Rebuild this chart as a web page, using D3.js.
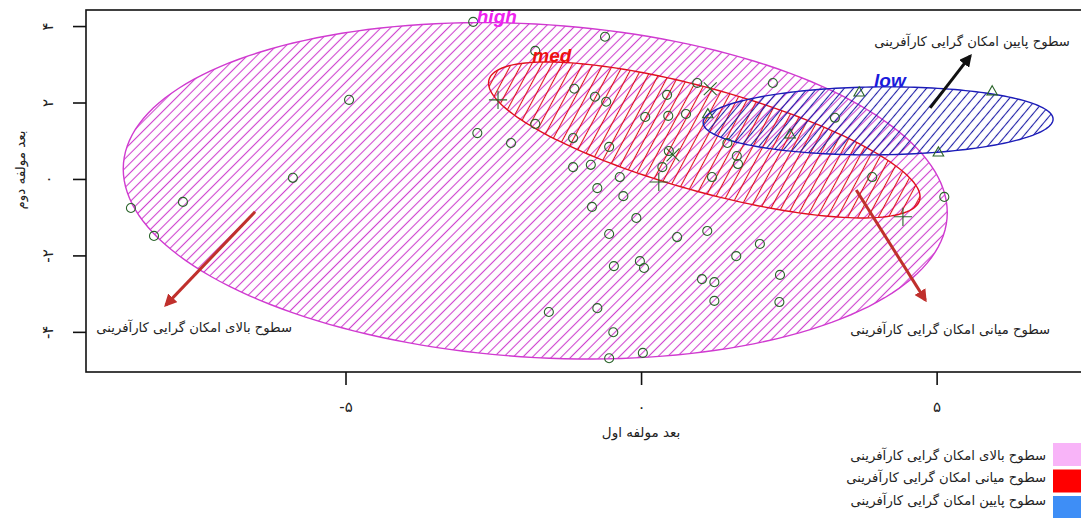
<!DOCTYPE html>
<html>
<head>
<meta charset="utf-8">
<script src="https://cdn.jsdelivr.net/npm/d3@7"></script>
<style>
  body { margin: 0; background: #fff; }
  svg { display: block; font-family: "DejaVu Sans", sans-serif; }
</style>
</head>
<body>
<svg id="chart" width="1081" height="518"></svg>
<script>
// ellipses (center, spread, correlation) per group
const groups = ["high", "med", "low"]
const ellCenterX = [-1.79, 1.07, 4.01]
const ellCenterY = [-0.31, 1.02, 1.52]
const ellSdX = [6.97, 3.65, 2.96]
const ellSdY = [4.40, 2.04, 0.89]
const ellCor = [-0.13, -0.73, 0.05]

// points
const circlePts = [
  [-8.63,-0.76],[-7.75,-0.60],[-8.24,-1.49],[-5.89,0.03],[-4.94,2.07],[-2.84,4.11],
  [-2.77,1.20],[-2.20,0.94],[-0.61,3.72],[-1.79,3.35],[-1.13,2.36],[-0.78,2.15],
  [-0.59,2.02],[-1.79,1.44],[-1.15,1.07],[-0.54,0.84],[0.07,1.62],[0.44,2.20],
  [0.46,1.65],[0.76,1.70],[0.95,2.51],[-1.15,0.31],[-0.85,0.37],[-0.36,0.05],
  [0.36,0.31],[0.47,0.73],[-0.74,-0.24],[-0.30,-0.45],[-0.83,-0.73],[-0.08,-1.02],
  [-0.54,-1.44],[0.61,-1.52],[1.12,-1.36],[-0.46,-2.28],[-0.02,-2.15],[0.05,-2.33],
  [1.03,-2.62],[-1.56,-3.48],[-0.74,-3.38],[-0.47,-4.01],[-0.54,-4.69],[0.03,-4.55],
  [1.24,-2.70],[1.24,-3.19],[1.61,-2.02],[2.01,-1.70],[2.35,-2.51],[2.34,-3.22],
  [5.13,-0.47],[2.23,2.51],[3.28,1.60],[1.46,0.94],[1.62,0.60],[1.64,0.39],
  [1.20,0.05],[3.91,0.05]
]
const trianglePts = [[1.13,1.68],[3.69,2.25],[2.52,1.15],[5.03,0.68],[5.94,2.28]]
const plusPts = [[-2.42,2.07],[0.30,-0.08],[4.43,-0.99]]
const timesPts = [[1.17,2.36],[0.54,0.63]]

// axis ticks
const xTicks = [-5, 0, 5]
const yTicks = [-4, -2, 0, 2, 4]

// group labels on the ellipses
const labelPos = [[-2.44, 4.24], [-1.51, 3.22], [4.21, 2.57]]

// annotations: text, text position, arrow start, arrow end
const noteText = [
  "سطوح بالای امکان گرایی کارآفرینی",
  "سطوح میانی امکان گرایی کارآفرینی",
  "سطوح پایین امکان گرایی کارآفرینی"
]
const notePos = [[-7.56, -3.88], [5.23, -3.95], [5.60, 3.59]]
const arrowFrom = [[-6.53, -0.86], [3.64, -0.29], [4.89, 1.86]]
const arrowTo = [[-8.04, -3.30], [4.81, -3.17], [5.57, 3.22]]

const legendText = noteText

const svg = d3.select("#chart")
const mLeft = 86, mRight = 1085, mTop = 10, mBottom = 372

const x = d3.scaleLinear().domain([-9.39, 7.51]).range([mLeft, mRight])
const y = d3.scaleLinear().domain([-5.05, 4.42]).range([mBottom, mTop])

const fa = n => String(n).replace(/\d/g, d => "۰۱۲۳۴۵۶۷۸۹"[d])

const lineCol = ["#d03ad0", "#e01020", "#1c1cb8"]
const hatchCol = ["#cf42cf", "#e0101c", "#2020a8"]
const hatchAngle = [-45, -62, -50]
const hatchGap = [6.8, 9, 7]
const labelCol = ["#ee22ee", "#ee1010", "#1a1adc"]
const arrowCol = ["#c0302c", "#c0302c", "#111"]
const legendCol = ["#f8b4f8", "#ff0000", "#3e8ef6"]

const defs = svg.append("defs")
groups.forEach((g, i) => {
  const p = defs.append("pattern")
    .attr("id", "hatch-" + g)
    .attr("patternUnits", "userSpaceOnUse")
    .attr("width", hatchGap[i]).attr("height", hatchGap[i])
    .attr("patternTransform", `rotate(${hatchAngle[i]})`)
  p.append("line")
    .attr("x1", 0).attr("x2", hatchGap[i])
    .attr("y1", hatchGap[i] / 2).attr("y2", hatchGap[i] / 2)
    .attr("stroke", hatchCol[i]).attr("stroke-width", 1.1)
})
arrowCol.forEach((c, i) => {
  defs.append("marker")
    .attr("id", "head" + i)
    .attr("viewBox", "0 0 10 10")
    .attr("refX", 8).attr("refY", 5)
    .attr("markerWidth", 4.2).attr("markerHeight", 4.2)
    .attr("markerUnits", "strokeWidth")
    .attr("orient", "auto")
    .append("path").attr("d", "M0,0 L10,5 L0,10 Z").attr("fill", c)
})

// ellipses
const ts = d3.range(0, 2 * Math.PI + 0.001, Math.PI / 90)
const line = d3.line()
groups.forEach((g, i) => {
  const k = Math.sqrt(1 - ellCor[i] * ellCor[i])
  const pts = ts.map(t => [
    x(ellCenterX[i] + ellSdX[i] * Math.cos(t)),
    y(ellCenterY[i] + ellSdY[i] * (ellCor[i] * Math.cos(t) + k * Math.sin(t)))
  ])
  svg.append("path")
    .attr("d", line(pts) + "Z")
    .attr("fill", `url(#hatch-${g})`)
    .attr("stroke", lineCol[i])
    .attr("stroke-width", 1.4)
})

// points
const green = "#2a642a"
const drawSym = (data, type, size) => {
  svg.append("g").selectAll("path")
    .data(data)
    .join("path")
    .attr("transform", d => `translate(${x(d[0])},${y(d[1])})`)
    .attr("d", d3.symbol(type, size))
    .attr("fill", "none")
    .attr("stroke", green)
    .attr("stroke-width", 1.1)
}
drawSym(circlePts, d3.symbolCircle, 64)
drawSym(trianglePts, d3.symbolTriangle2, 80)
drawSym(plusPts, d3.symbolPlus, 110)
drawSym(timesPts, d3.symbolTimes, 110)

// group labels
svg.append("g").selectAll("text")
  .data(groups)
  .join("text")
  .attr("x", (d, i) => x(labelPos[i][0]))
  .attr("y", (d, i) => y(labelPos[i][1]))
  .attr("text-anchor", "middle")
  .attr("dominant-baseline", "central")
  .attr("font-family", "Liberation Sans, Arial, sans-serif")
  .attr("font-weight", "bold")
  .attr("font-style", "italic")
  .attr("font-size", 19)
  .attr("fill", (d, i) => labelCol[i])
  .text(d => d)

// arrows + notes
svg.append("g").selectAll("line")
  .data(arrowFrom)
  .join("line")
  .attr("x1", d => x(d[0])).attr("y1", d => y(d[1]))
  .attr("x2", (d, i) => x(arrowTo[i][0])).attr("y2", (d, i) => y(arrowTo[i][1]))
  .attr("stroke", (d, i) => arrowCol[i])
  .attr("stroke-width", 3)
  .attr("marker-end", (d, i) => `url(#head${i})`)

svg.append("g").selectAll("text")
  .data(noteText)
  .join("text")
  .attr("x", (d, i) => x(notePos[i][0]))
  .attr("y", (d, i) => y(notePos[i][1]))
  .attr("text-anchor", "middle")
  .attr("dominant-baseline", "central")
  .attr("font-size", 13.2)
  .attr("fill", "#222")
  .text(d => d)

// frame
svg.append("rect")
  .attr("x", mLeft).attr("y", mTop)
  .attr("width", mRight - mLeft).attr("height", mBottom - mTop)
  .attr("fill", "none").attr("stroke", "#111").attr("stroke-width", 1.6)

// axes
const xAxis = svg.append("g")
  .attr("transform", `translate(0,${mBottom})`)
  .call(d3.axisBottom(x).tickValues(xTicks).tickFormat(fa).tickSize(13).tickSizeOuter(0).tickPadding(16))
xAxis.select(".domain").remove()

const yAxis = svg.append("g")
  .attr("transform", `translate(${mLeft},0)`)
  .call(d3.axisLeft(y).tickValues(yTicks).tickFormat(fa).tickSize(13).tickSizeOuter(0))
yAxis.select(".domain").remove()
yAxis.selectAll(".tick text")
  .attr("x", null).attr("dy", null)
  .attr("text-anchor", "middle")
  .attr("dominant-baseline", "central")
  .attr("transform", "translate(-38,0) rotate(-90)")

svg.selectAll(".tick line").attr("stroke", "#111").attr("stroke-width", 1.6)
svg.selectAll(".tick text")
  .attr("font-family", "DejaVu Sans, sans-serif")
  .attr("font-size", 15).attr("fill", "#222")

svg.append("text")
  .attr("x", x(0)).attr("y", 432)
  .attr("text-anchor", "middle").attr("dominant-baseline", "central")
  .attr("font-size", 13.5).attr("fill", "#222")
  .text("بعد مولفه اول")

svg.append("text")
  .attr("transform", `translate(20,170) rotate(-90)`)
  .attr("text-anchor", "middle").attr("dominant-baseline", "central")
  .attr("font-size", 13.5).attr("fill", "#222")
  .text("بعد مولفه دوم")

// legend
const leg = svg.append("g")
leg.selectAll("rect")
  .data(legendCol)
  .join("rect")
  .attr("x", 1053).attr("y", (d, i) => 443 + i * 26.5)
  .attr("width", 30).attr("height", 23)
  .attr("fill", d => d)
leg.selectAll("text")
  .data(legendText)
  .join("text")
  .attr("x", 1046).attr("y", (d, i) => 455 + i * 22.5)
  .attr("text-anchor", "end").attr("dominant-baseline", "central")
  .attr("font-size", 13.2).attr("fill", "#222")
  .text(d => d)
</script>
</body>
</html>
